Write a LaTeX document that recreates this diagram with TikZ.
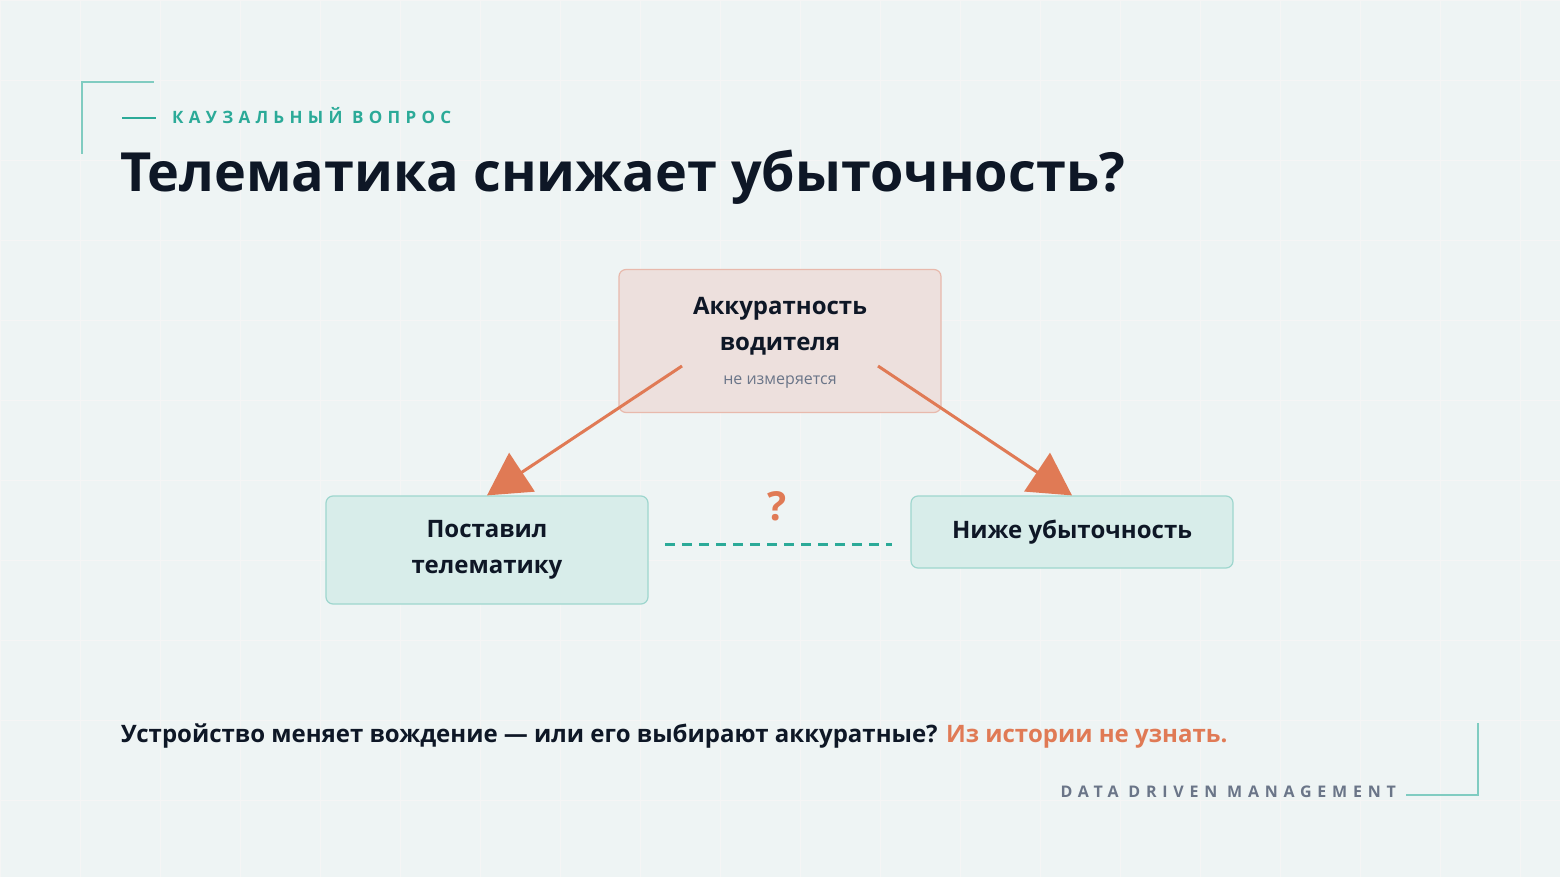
\documentclass[tikz,border=0pt]{standalone}
\usepackage{fontspec}
\setmainfont{Open Sans}
\newfontfamily\spacedA[LetterSpace=31]{Open Sans}
\newfontfamily\spacedB[LetterSpace=36]{Open Sans}
\usetikzlibrary{arrows.meta}
\definecolor{teal}{HTML}{2BAA98}
\definecolor{tealbox}{HTML}{D8EDEA}
\definecolor{tealedge}{HTML}{9ED6CE}
\definecolor{rosebox}{HTML}{EDE0DD}
\definecolor{roseedge}{HTML}{E8B9AC}
\definecolor{orng}{HTML}{E07A55}
\definecolor{ink}{HTML}{0E1726}
\definecolor{greyt}{HTML}{6A7588}
\definecolor{bg}{HTML}{EEF4F4}
\begin{document}
\begin{tikzpicture}[x=1pt,y=-1pt,
 box/.style={draw=tealedge,fill=tealbox,line width=1.2pt,rounded corners=7pt,minimum width=322pt,align=center,font=\bfseries\fontsize{24}{36}\selectfont,text=ink},
 arr/.style={draw=orng,line width=3pt,-{Triangle[length=42pt,width=46pt]}},
 lbl/.style={inner sep=0pt,anchor=base west}]
\useasboundingbox (0,0) rectangle (1560,877);
\fill[bg] (0,0) rectangle (1560,877);
\draw[black!4,line width=0.8pt] (0,0) grid[step=80pt] (1560,877);
% corner brackets
\coordinate (c1) at (82,154); \coordinate (c2) at (82,82); \coordinate (c3) at (154,82);
\draw[teal!60,line width=1.5pt] (c1)--(c2)--(c3);
\coordinate (d1) at (1478,723); \coordinate (d2) at (1478,795); \coordinate (d3) at (1406,795);
\draw[teal!60,line width=1.5pt] (d1)--(d2)--(d3);
\coordinate (k1) at (122,118); \coordinate (k2) at (156,118);
\draw[teal,line width=1.5pt] (k1)--(k2);
\node[lbl,text=teal,font=\spacedA\bfseries\fontsize{17}{20}\selectfont] (kick) at (172,124) {КАУЗАЛЬНЫЙ ВОПРОС};
\node[lbl,text=ink,font=\bfseries\fontsize{54}{60}\selectfont] (title) at (120,192) {Телематика снижает убыточность?};
% nodes
\node[draw=roseedge,fill=rosebox,line width=1.2pt,rounded corners=7pt,minimum width=322pt,minimum height=143pt] (top) at (780,341) {};
\node[align=center,font=\bfseries\fontsize{24}{36}\selectfont,text=ink] (toptxt) at (780,326) {Аккуратность\\водителя};
\node[font=\fontsize{16}{18}\selectfont,text=greyt] (topsub) at (780,382) {не измеряется};
\node[box,minimum height=108pt] (left) at (487,550) {Поставил\\телематику};
\node[box,minimum height=72pt] (right) at (1072,532) {Ниже убыточность};
\coordinate (a1) at (682,366); \coordinate (a2) at (878,366);
\draw[arr] (a1) -- (left.north);
\draw[arr] (a2) -- (right.north);
\coordinate (q1) at (665,544); \coordinate (q2) at (892,544);
\draw[teal,line width=3pt,dash pattern=on 10pt off 7pt] (q1)--(q2);
\node[text=orng,font=\bfseries\fontsize{40}{42}\selectfont] (q) at (777,506) {?};
\node[lbl,text=ink,font=\bfseries\fontsize{24}{28}\selectfont] (bottom) at (121,742) {Устройство меняет вождение — или его выбирают аккуратные? \textcolor{orng}{Из истории не узнать.}};
\node[lbl,anchor=base east,text=greyt,font=\spacedB\bfseries\fontsize{16}{18}\selectfont] (brand) at (1396,797) {DATA DRIVEN MANAGEMENT};
\end{tikzpicture}
\end{document}
